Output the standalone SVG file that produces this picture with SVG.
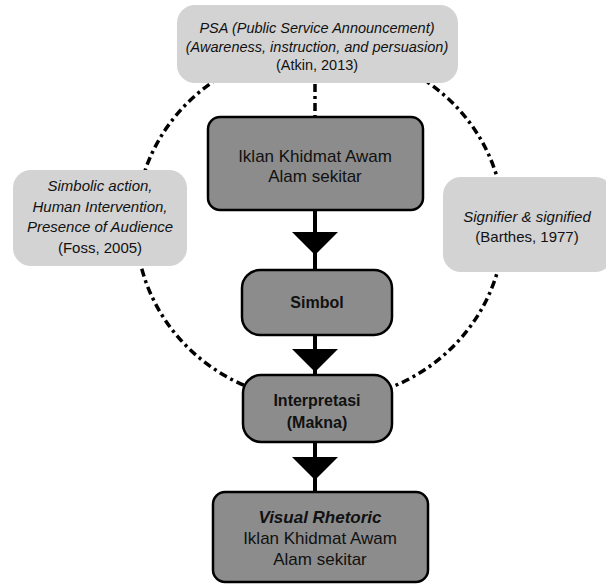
<svg xmlns="http://www.w3.org/2000/svg" width="606" height="585" viewBox="0 0 606 585">
<style>
.lt{fill:#d3d3d3;stroke:none}
.dk{fill:#8c8c8c;stroke:#000;stroke-width:2.5}
.dash{fill:none;stroke:#000;stroke-width:3.5;stroke-dasharray:8 4 3 4}
.flow{stroke:#000;stroke-width:4}
text{font-family:"Liberation Sans",Arial,sans-serif;text-anchor:middle;fill:#111}
.it{font-style:italic}
.b{font-weight:bold}
</style>
<rect width="606" height="585" fill="#fff"/>
<g id="connectors">
<ellipse class="dash" cx="320" cy="225" rx="184" ry="176"/>
<line class="dash" x1="315" y1="84" x2="315" y2="117"/>
<line class="flow" x1="315" y1="210" x2="315" y2="270"/>
<polygon points="292,232 338,232 315,255" fill="#000"/>
<line class="flow" x1="315" y1="335" x2="315" y2="375"/>
<polygon points="292,349 338,349 315,372" fill="#000"/>
<line class="flow" x1="315" y1="442" x2="315" y2="492"/>
<polygon points="292,457 338,457 315,480" fill="#000"/>
</g>
<g id="psa">
<rect class="lt" x="177" y="5" width="281" height="78" rx="18"/>
<text x="317" y="33" font-size="14.5" class="it">PSA (Public Service Announcement)</text>
<text x="317" y="52" font-size="14.5" class="it">(Awareness, instruction, and persuasion)</text>
<text x="317" y="70" font-size="14.5">(Atkin, 2013)</text>
</g>
<g id="foss">
<rect class="lt" x="13" y="170" width="174" height="96" rx="18"/>
<text x="100" y="191" font-size="15" class="it">Simbolic action,</text>
<text x="100" y="212" font-size="15" class="it">Human Intervention,</text>
<text x="100" y="232" font-size="15" class="it">Presence of Audience</text>
<text x="100" y="253" font-size="15">(Foss, 2005)</text>
</g>
<g id="barthes">
<rect class="lt" x="443" y="177" width="170" height="95" rx="18"/>
<text x="527" y="222" font-size="15" class="it">Signifier &amp; signified</text>
<text x="527" y="242" font-size="15">(Barthes, 1977)</text>
</g>
<g id="iklan">
<rect class="dk" x="208" y="117" width="215" height="93" rx="12"/>
<text x="315" y="162" font-size="17">Iklan Khidmat Awam</text>
<text x="315" y="182" font-size="17">Alam sekitar</text>
</g>
<g id="simbol">
<rect class="dk" x="242" y="270" width="150" height="65" rx="18"/>
<text x="317" y="308" font-size="16" class="b">Simbol</text>
</g>
<g id="interpretasi">
<rect class="dk" x="243" y="375" width="149" height="67" rx="18"/>
<text x="317" y="406" font-size="16" class="b">Interpretasi</text>
<text x="317" y="428" font-size="16" class="b">(Makna)</text>
</g>
<g id="visual">
<rect class="dk" x="213" y="492" width="215" height="90" rx="12"/>
<text x="320" y="523" font-size="17" class="b it">Visual Rhetoric</text>
<text x="320" y="544" font-size="17">Iklan Khidmat Awam</text>
<text x="320" y="565" font-size="17">Alam sekitar</text>
</g>
</svg>
